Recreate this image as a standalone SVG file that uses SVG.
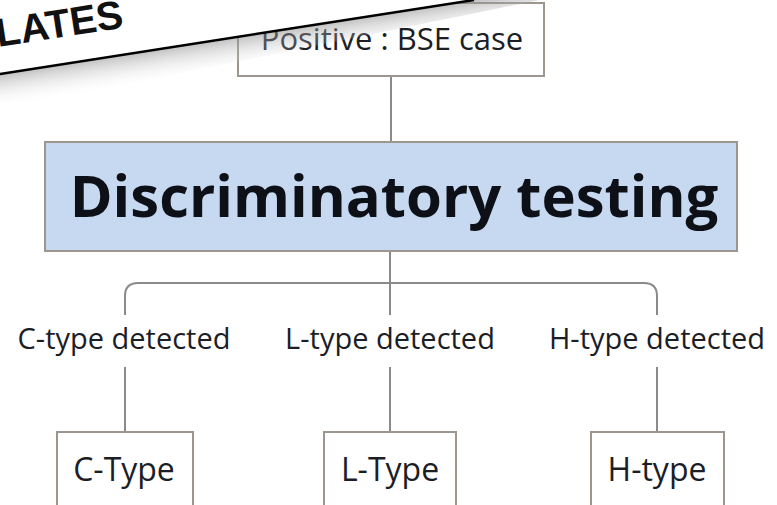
<svg xmlns="http://www.w3.org/2000/svg" width="777" height="505" viewBox="0 0 777 505">
<defs>
<style>
.box{fill:#ffffff;stroke:#9c968e;stroke-width:2}
.main{fill:#c6d9f0;stroke:#9c968e;stroke-width:2}
.conn{fill:none;stroke:#8a8a8a;stroke-width:2}
.t{font-family:"Open Sans","Noto Sans","DejaVu Sans",sans-serif;fill:#1c1e26;text-anchor:middle}
.lbl{font-size:29px}
.big{font-size:58px;font-weight:bold;fill:#0e1018}
</style>
<linearGradient id="shadow" gradientUnits="userSpaceOnUse" x1="150" y1="52" x2="155" y2="84">
<stop offset="0" stop-color="#8c8c8c" stop-opacity="0.5"/>
<stop offset="1" stop-color="#ffffff" stop-opacity="0"/>
</linearGradient>
</defs>
<rect width="777" height="505" fill="#ffffff"/>
<g id="connectors">
<path class="conn" d="M391,76 V142"/>
<path class="conn" d="M390,251 V315"/>
<path class="conn" d="M125,315 V296 Q125,283 138,283 H644 Q657,283 657,296 V315"/>
<path class="conn" d="M125,367 V432"/>
<path class="conn" d="M390,367 V432"/>
<path class="conn" d="M657,367 V432"/>
</g>
<g id="node-positive">
<rect class="box" x="238" y="3" width="306" height="73"/>
<text class="t" x="392" y="50" font-size="31">Positive : BSE case</text>
</g>
<g id="node-discriminatory">
<rect class="main" x="45" y="142" width="692" height="109"/>
<text class="t big" x="394" y="217">Discriminatory testing</text>
</g>
<g id="label-c"><text class="t lbl" x="124" y="349">C-type detected</text></g>
<g id="label-l"><text class="t lbl" x="390" y="349">L-type detected</text></g>
<g id="label-h"><text class="t lbl" x="657" y="349">H-type detected</text></g>
<g id="node-c">
<rect class="box" x="57" y="432" width="136" height="90"/>
<text class="t" x="124" y="481" font-size="32">C-Type</text>
</g>
<g id="node-l">
<rect class="box" x="324" y="432" width="132" height="90"/>
<text class="t" x="390" y="481" font-size="32">L-Type</text>
</g>
<g id="node-h">
<rect class="box" x="591" y="432" width="133" height="90"/>
<text class="t" x="657" y="481" font-size="32">H-type</text>
</g>
<g id="paper-strip">
<polygon points="0,74 474,0 540,0 0,110" fill="url(#shadow)"/>
<polygon points="0,0 474,0 0,74" fill="#ffffff"/>
<line x1="0" y1="74" x2="474" y2="0" stroke="#000" stroke-width="2.5"/>
<text x="-2" y="47" transform="rotate(-8.8 -2 47)" font-family="Liberation Sans, Arial, sans-serif" font-weight="bold" font-size="40" fill="#111">LATES</text>
</g>
</svg>
